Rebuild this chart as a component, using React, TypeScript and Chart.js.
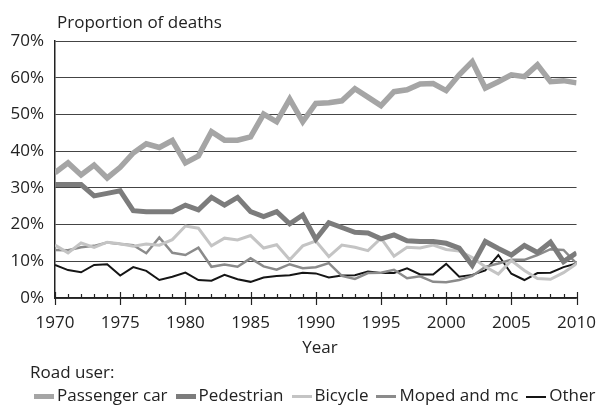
import React, { useEffect, useRef } from "react";
import { Chart, registerables } from "chart.js";

Chart.register(...registerables);

const years = [
  1970, 1971, 1972, 1973, 1974, 1975, 1976, 1977, 1978, 1979,
  1980, 1981, 1982, 1983, 1984, 1985, 1986, 1987, 1988, 1989,
  1990, 1991, 1992, 1993, 1994, 1995, 1996, 1997, 1998, 1999,
  2000, 2001, 2002, 2003, 2004, 2005, 2006, 2007, 2008, 2009,
  2010,
];

const passengerCar = [
  34.1, 36.8, 33.5, 36.2, 32.7, 35.6, 39.5, 42, 41, 42.9,
  36.8, 38.7, 45.3, 43, 43, 43.9, 50.1, 48, 54.2, 48,
  53, 53.2, 53.7, 57, 54.7, 52.4, 56.2, 56.7, 58.3, 58.4,
  56.5, 60.8, 64.4, 57.2, 58.9, 60.8, 60.3, 63.5, 58.9, 59.2,
  58.6,
];

const pedestrian = [
  30.9, 30.9, 30.9, 27.8, 28.5, 29.2, 23.8, 23.5, 23.5, 23.5,
  25.3, 24, 27.4, 25.3, 27.4, 23.5, 22.2, 23.5, 20.2, 22.6,
  16, 20.5, 19.2, 17.9, 17.7, 16.1, 17.2, 15.6, 15.4, 15.4,
  14.9, 13.6, 8.9, 15.4, 13.5, 11.7, 14.3, 12.4, 15.2, 9.9,
  12.3,
];

const bicycle = [
  14.4, 12.3, 15, 13.8, 15.2, 14.8, 14.1, 14.7, 14.4, 15.9,
  19.6, 19, 14.2, 16.3, 15.8, 17, 13.6, 14.5, 10.4, 14.2,
  15.5, 11.3, 14.4, 13.8, 12.9, 16.3, 11.4, 13.8, 13.6, 14.4,
  13.2, 12.8, 11, 8.5, 6.5, 10.2, 7.5, 5.3, 5.1, 6.9,
  9.3,
];

const mopedMc = [
  13.1, 13, 13.8, 14.2, 15.1, 14.7, 14.4, 12.2, 16.5, 12.3,
  11.7, 13.7, 8.5, 9.1, 8.5, 10.8, 8.6, 7.7, 9.2, 8.1,
  8.4, 9.5, 6, 5.2, 6.8, 6.9, 7.7, 5.4, 5.9, 4.4,
  4.3, 4.9, 6, 8.5, 9.4, 10.4, 10.4, 11.7, 13.3, 13.1,
  9.4,
];

const other = [
  9, 7.6, 7, 9, 9.2, 6.1, 8.4, 7.4, 4.9, 5.8,
  6.9, 4.9, 4.7, 6.3, 5.1, 4.4, 5.6, 6, 6.2, 6.9,
  6.7, 5.6, 6.1, 6.2, 7.2, 6.8, 6.8, 8.1, 6.4, 6.4,
  9.3, 5.8, 6.3, 7.5, 11.7, 6.6, 4.9, 6.8, 6.9, 8.4,
  9.4,
];

const xTickLabels = [1970, 1975, 1980, 1985, 1990, 1995, 2000, 2005, 2010];
const yTickValues = [0, 10, 20, 30, 40, 50, 60, 70];

const seriesNames = ["Passenger car", "Pedestrian", "Bicycle", "Moped and mc", "Other"];
const seriesColors = ["#a5a5a5", "#7c7c7c", "#c4c4c4", "#8b8b8b", "#151515"];
const seriesWidths = [5.5, 5, 3, 2.5, 2];
const seriesData = [passengerCar, pedestrian, bicycle, mopedMc, other];

const FONT = "'Open Sans', sans-serif";
const TEXT = "#222";

export default function App() {
  const ref = useRef<HTMLCanvasElement>(null);

  useEffect(() => {
    document.body.style.margin = "0";
    const canvas = ref.current;
    if (!canvas) return;

    const tickPlugin = {
      id: "yearTicks",
      afterDraw(chart: any) {
        const ctx = chart.ctx;
        const xs = chart.scales.x;
        const bottom = chart.chartArea.bottom;
        ctx.save();
        ctx.strokeStyle = "#222";
        ctx.lineWidth = 1.2;
        years.forEach((yr) => {
          const px = Math.round(xs.getPixelForValue(yr)) + 0.5;
          const major = xTickLabels.includes(yr);
          ctx.beginPath();
          ctx.moveTo(px, bottom - (major ? 6 : 4));
          ctx.lineTo(px, bottom + (major ? 7 : 0));
          ctx.stroke();
        });
        ctx.restore();
      },
    };

    const datasets = seriesData.map((arr, i) => ({
      label: seriesNames[i],
      data: arr.map((v, j) => ({ x: years[j], y: v })),
      borderColor: seriesColors[i],
      backgroundColor: seriesColors[i],
      borderWidth: seriesWidths[i],
      pointRadius: 0,
      tension: 0,
      fill: false,
      borderJoinStyle: "miter" as const,
      order: i,
    }));

    const chart = new Chart(canvas, {
      type: "line",
      data: { datasets },
      options: {
        animation: false,
        responsive: false,
        maintainAspectRatio: false,
        layout: { padding: { top: 41, right: 26, left: 0, bottom: 0 } },
        plugins: {
          legend: { display: false },
          tooltip: { enabled: false },
        },
        scales: {
          x: {
            type: "linear",
            min: 1970,
            max: 2010,
            afterBuildTicks: (s: any) => {
              s.ticks = xTickLabels.map((v) => ({ value: v }));
            },
            afterFit: (s: any) => {
              s.height = 107;
            },
            grid: { display: false, drawTicks: false },
            border: { display: true, color: "#222", width: 1.5 },
            ticks: {
              padding: 15,
              autoSkip: false,
              maxRotation: 0,
              color: TEXT,
              font: { family: FONT, size: 17 },
              callback: (v: any) => String(v),
            },
          },
          y: {
            min: 0,
            max: 70,
            afterBuildTicks: (s: any) => {
              s.ticks = yTickValues.map((v) => ({ value: v }));
            },
            afterFit: (s: any) => {
              s.width = 55;
            },
            grid: { color: "#444", lineWidth: 1, drawTicks: false },
            border: { display: true, color: "#222", width: 1.5 },
            ticks: {
              padding: 11,
              color: TEXT,
              font: { family: FONT, size: 17 },
              callback: (v: any) => v + "%",
            },
          },
        },
      },
      plugins: [tickPlugin],
    });

    return () => chart.destroy();
  }, []);

  const textStyle: React.CSSProperties = {
    position: "absolute",
    fontFamily: FONT,
    fontSize: 17,
    color: TEXT,
    lineHeight: "20px",
    whiteSpace: "nowrap",
  };

  return (
    <div style={{ position: "absolute", left: 0, top: 0, width: 611, height: 405, background: "#fff", overflow: "hidden" }}>
      <canvas ref={ref} width={611} height={405} style={{ position: "absolute", left: 0, top: 0, width: 611, height: 405 }} />
      <div style={{ ...textStyle, left: 57, top: 12 }}>Proportion of deaths</div>
      <div style={{ ...textStyle, left: 0, width: 640, textAlign: "center", top: 337 }}>Year</div>
      <div style={{ ...textStyle, left: 30, top: 362 }}>Road user:</div>
      <div style={{ ...textStyle, left: 34, top: 385, display: "flex", alignItems: "center" }}>
        {seriesNames.map((name, i) => (
          <div key={name} style={{ display: "flex", alignItems: "center", marginRight: 8 }}>
            <span
              style={{
                display: "inline-block",
                width: 20,
                height: seriesWidths[i],
                background: seriesColors[i],
                marginRight: 3,
                marginTop: 3,
              }}
            />
            <span>{name}</span>
          </div>
        ))}
      </div>
    </div>
  );
}
